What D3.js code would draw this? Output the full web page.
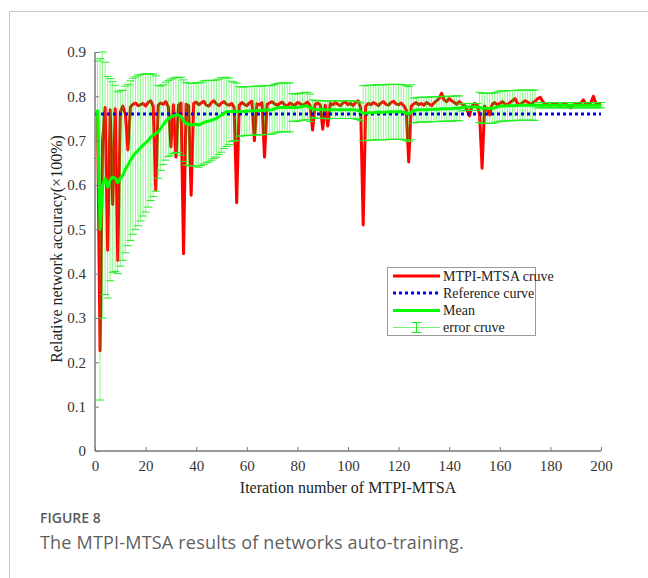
<!DOCTYPE html>
<html><head><meta charset="utf-8">
<script src="https://cdn.jsdelivr.net/npm/d3@7"></script>
<style>body{margin:0;background:#fff}svg{display:block}.tick text{font-family:'Liberation Serif','Times New Roman',serif !important;font-size:15px !important}</style>
</head><body>
<svg id="c" width="648" height="578"></svg>
<script>
// ---------- data ----------
const xTicks = [0,20,40,60,80,100,120,140,160,180,200];
const yTicks = [0,0.1,0.2,0.3,0.4,0.5,0.6,0.7,0.8,0.9];
const yTickLabels = ["0","0.1","0.2","0.3","0.4","0.5","0.6","0.7","0.8","0.9"];
const referenceValue = 0.76;
const legendLabels = ["MTPI-MTSA cruve","Reference curve","Mean","error cruve"];
// iteration 1..200
const accuracy = [
0.760,0.226,0.700,0.775,0.453,0.770,0.556,0.772,0.430,0.765,
0.778,0.760,0.679,0.776,0.782,0.785,0.779,0.781,0.784,0.778,
0.786,0.790,0.778,0.589,0.780,0.785,0.782,0.788,0.776,0.686,
0.781,0.663,0.780,0.785,0.445,0.782,0.779,0.577,0.784,0.787,
0.781,0.785,0.789,0.780,0.778,0.786,0.790,0.783,0.779,0.785,
0.788,0.782,0.780,0.784,0.775,0.560,0.780,0.786,0.782,0.779,
0.785,0.789,0.700,0.783,0.781,0.786,0.663,0.782,0.785,0.788,
0.783,0.780,0.784,0.787,0.781,0.778,0.785,0.782,0.780,0.786,
0.784,0.779,0.783,0.787,0.780,0.724,0.782,0.785,0.781,0.726,
0.780,0.733,0.784,0.781,0.786,0.782,0.779,0.785,0.788,0.781,
0.784,0.779,0.786,0.790,0.775,0.510,0.778,0.784,0.781,0.786,
0.783,0.779,0.785,0.788,0.782,0.780,0.786,0.789,0.783,0.781,
0.785,0.779,0.770,0.652,0.778,0.783,0.786,0.781,0.784,0.780,
0.786,0.783,0.779,0.785,0.790,0.795,0.807,0.792,0.788,0.795,
0.790,0.786,0.782,0.788,0.783,0.780,0.770,0.756,0.778,0.784,
0.781,0.760,0.638,0.778,0.770,0.758,0.782,0.786,0.781,0.784,
0.788,0.783,0.780,0.786,0.790,0.795,0.784,0.781,0.786,0.790,
0.787,0.782,0.785,0.790,0.795,0.798,0.788,0.783,0.781,0.780,
0.782,0.784,0.781,0.779,0.782,0.784,0.778,0.774,0.780,0.783,
0.781,0.784,0.792,0.783,0.781,0.786,0.800,0.784,0.781,0.783];
const meanValues = [
0.770,0.500,0.600,0.615,0.595,0.612,0.618,0.615,0.605,0.615,
0.622,0.635,0.645,0.655,0.665,0.672,0.678,0.684,0.690,0.695,
0.700,0.708,0.712,0.716,0.720,0.728,0.736,0.744,0.750,0.753,
0.756,0.758,0.758,0.755,0.745,0.738,0.737,0.736,0.736,0.737,
0.735,0.738,0.741,0.743,0.744,0.746,0.748,0.750,0.754,0.758,
0.762,0.765,0.766,0.766,0.766,0.765,0.766,0.766,0.766,0.767,
0.767,0.767,0.768,0.768,0.768,0.768,0.769,0.769,0.769,0.770,
0.772,0.774,0.775,0.775,0.775,0.775,0.775,0.775,0.774,0.775,
0.776,0.777,0.778,0.778,0.774,0.772,0.770,0.770,0.771,0.770,
0.770,0.769,0.770,0.770,0.770,0.770,0.770,0.770,0.770,0.770,
0.770,0.770,0.769,0.768,0.765,0.762,0.762,0.763,0.763,0.763,
0.764,0.764,0.764,0.764,0.764,0.765,0.765,0.765,0.765,0.765,
0.765,0.764,0.762,0.760,0.764,0.768,0.769,0.770,0.770,0.770,
0.770,0.770,0.771,0.771,0.771,0.771,0.772,0.772,0.772,0.772,
0.772,0.773,0.773,0.773,0.775,0.776,0.776,0.776,0.776,0.776,
0.776,0.775,0.773,0.773,0.773,0.773,0.773,0.774,0.776,0.778,
0.778,0.778,0.779,0.779,0.779,0.779,0.780,0.780,0.780,0.780,
0.780,0.780,0.780,0.780,0.780,0.780,0.780,0.780,0.780,0.780,
0.780,0.780,0.780,0.780,0.780,0.780,0.780,0.780,0.780,0.780,
0.780,0.780,0.780,0.780,0.780,0.780,0.780,0.780,0.780,0.780];
const errorValues = [
0.110,0.385,0.300,0.262,0.250,0.228,0.215,0.210,0.205,0.198,
0.192,0.188,0.182,0.180,0.176,0.172,0.170,0.165,0.160,0.156,
0.150,0.143,0.138,0.130,0.105,0.095,0.090,0.088,0.086,0.086,
0.085,0.085,0.085,0.088,0.092,0.093,0.093,0.093,0.093,0.094,
0.095,0.094,0.094,0.093,0.092,0.090,0.088,0.087,0.085,0.084,
0.080,0.078,0.075,0.068,0.066,0.065,0.056,0.055,0.055,0.055,
0.055,0.055,0.055,0.055,0.055,0.055,0.055,0.055,0.055,0.055,
0.055,0.055,0.055,0.055,0.055,0.055,0.055,0.031,0.031,0.031,
0.031,0.031,0.031,0.031,0.031,0.020,0.020,0.020,0.020,0.020,
0.020,0.020,0.020,0.020,0.020,0.020,0.020,0.020,0.020,0.020,
0.020,0.020,0.020,0.020,0.020,0.062,0.062,0.062,0.062,0.062,
0.062,0.062,0.062,0.062,0.062,0.062,0.062,0.062,0.062,0.062,
0.062,0.062,0.062,0.062,0.062,0.028,0.028,0.028,0.028,0.028,
0.028,0.028,0.028,0.028,0.028,0.028,0.028,0.028,0.028,0.028,
0.028,0.028,0.028,0.028,0.008,0.008,0.008,0.008,0.008,0.008,
0.008,0.034,0.034,0.034,0.034,0.034,0.034,0.034,0.034,0.034,
0.034,0.034,0.034,0.034,0.034,0.034,0.034,0.034,0.034,0.034,
0.034,0.034,0.034,0.034,0.006,0.006,0.006,0.006,0.006,0.006,
0.006,0.006,0.006,0.006,0.006,0.006,0.006,0.006,0.006,0.006,
0.006,0.006,0.006,0.006,0.006,0.006,0.006,0.006,0.006,0.006];
const iterations = accuracy.map((d,i)=>i+1);

// ---------- chart ----------
const svg = d3.select("#c");
const serif = "'Liberation Serif','Times New Roman',serif";
const axisColor = "#7a7a7a";

// figure frame
svg.append("path").attr("d","M9.5,578 V11.5 H648").attr("fill","none").attr("stroke","#c8c8c8").attr("stroke-width",1);

const x = d3.scaleLinear().domain([0,200]).range([95,601]);
const y = d3.scaleLinear().domain([0,0.9]).range([451,52]);

const g = svg.append("g");

// red curve
const lineAcc = d3.line().x((d,i)=>x(iterations[i])).y(d=>y(d));
g.append("path").datum(accuracy).attr("d",lineAcc)
  .attr("fill","none").attr("stroke","#ff0000").attr("stroke-width",3).attr("stroke-linejoin","round");

// error bars
const eb = g.append("g");
const cap = 4;
iterations.forEach((it,i)=>{
  const xi = x(it), lo = y(meanValues[i]-errorValues[i]), hi = y(meanValues[i]+errorValues[i]);
  eb.append("line").attr("x1",xi).attr("x2",xi).attr("y1",lo).attr("y2",hi)
    .attr("stroke","rgba(0,235,0,0.45)").attr("stroke-width",1);
  eb.append("line").attr("x1",xi-cap).attr("x2",xi+cap).attr("y1",lo).attr("y2",lo)
    .attr("stroke","#22ee22").attr("stroke-width",1);
  eb.append("line").attr("x1",xi-cap).attr("x2",xi+cap).attr("y1",hi).attr("y2",hi)
    .attr("stroke","#22ee22").attr("stroke-width",1);
});

// reference curve
g.append("line").attr("x1",x(0)).attr("x2",x(200)).attr("y1",y(referenceValue)).attr("y2",y(referenceValue))
  .attr("stroke","#0000ff").attr("stroke-width",3).attr("stroke-dasharray","3,3");

// mean curve
const lineMean = d3.line().x((d,i)=>x(iterations[i])).y(d=>y(d));
g.append("path").datum(meanValues).attr("d",lineMean)
  .attr("fill","none").attr("stroke","#00ff00").attr("stroke-width",3).attr("stroke-linejoin","round");

// axes
const xAxis = svg.append("g").attr("transform","translate(0,451)")
  .call(d3.axisBottom(x).tickValues(xTicks).tickSize(-4).tickPadding(9).tickFormat(d3.format("d")));
const yAxis = svg.append("g").attr("transform","translate(95,0)")
  .call(d3.axisLeft(y).tickValues(yTicks).tickSize(-4).tickPadding(9).tickFormat((d,i)=>yTickLabels[i]));
[xAxis,yAxis].forEach(a=>{
  a.attr("font-family",serif).attr("font-size",15);
  a.select(".domain").attr("stroke",axisColor).attr("stroke-width",1.5);
  a.selectAll(".tick line").attr("stroke",axisColor).attr("stroke-width",1);
  a.selectAll(".tick text").attr("fill","#333").attr("font-family",serif);
});
yAxis.select(".domain").attr("d","M0,451V52");
xAxis.select(".domain").attr("d","M95,0H601");

// axis titles
svg.append("text").attr("x",348).attr("y",493).attr("text-anchor","middle")
  .style("font-family",serif).style("font-size","16px").attr("fill","#222").text("Iteration number of MTPI-MTSA");
svg.append("text").attr("transform","translate(62,249) rotate(-90)").attr("text-anchor","middle")
  .style("font-family",serif).style("font-size","16px").attr("fill","#222").text("Relative network accuracy(×100%)");

// legend
const lg = svg.append("g");
lg.append("rect").attr("x",387.5).attr("y",267.5).attr("width",148).attr("height",68)
  .attr("fill","#fff").attr("stroke","#9a9a9a").attr("stroke-width",1);
const rows = [276,293,310.5,327.5];
const lx1 = 393, lx2 = 440;
lg.append("line").attr("x1",lx1).attr("x2",lx2).attr("y1",rows[0]).attr("y2",rows[0]).attr("stroke","#ff0000").attr("stroke-width",3);
lg.append("line").attr("x1",lx1).attr("x2",lx2).attr("y1",rows[1]).attr("y2",rows[1]).attr("stroke","#0000ff").attr("stroke-width",3).attr("stroke-dasharray","3,3");
lg.append("line").attr("x1",lx1).attr("x2",lx2).attr("y1",rows[2]).attr("y2",rows[2]).attr("stroke","#00ff00").attr("stroke-width",3);
lg.append("line").attr("x1",lx1).attr("x2",lx2).attr("y1",rows[3]).attr("y2",rows[3]).attr("stroke","rgba(0,235,0,0.55)").attr("stroke-width",1);
const mx = (lx1+lx2)/2;
lg.append("line").attr("x1",mx).attr("x2",mx).attr("y1",rows[3]-5).attr("y2",rows[3]+5).attr("stroke","#22ee22").attr("stroke-width",1);
lg.append("line").attr("x1",mx-5).attr("x2",mx+5).attr("y1",rows[3]-5).attr("y2",rows[3]-5).attr("stroke","#22ee22").attr("stroke-width",1);
lg.append("line").attr("x1",mx-5).attr("x2",mx+5).attr("y1",rows[3]+5).attr("y2",rows[3]+5).attr("stroke","#22ee22").attr("stroke-width",1);
legendLabels.forEach((t,i)=>{
  lg.append("text").attr("x",443).attr("y",rows[i]+4.5).style("font-family",serif).style("font-size","14px")
    .attr("fill","#222").text(t);
});

// caption
svg.append("text").attr("x",40).attr("y",523).style("font-family","'Open Sans',sans-serif").style("font-size","14px")
  .attr("font-weight",600).attr("fill","#5a5a5a").text("FIGURE 8");
svg.append("text").attr("x",40).attr("y",549).style("font-family","'Open Sans',sans-serif").style("font-size","18px")
  .style("letter-spacing","0.2px").attr("fill","#5f5f5f").text("The MTPI-MTSA results of networks auto-training.");
</script>
</body></html>
